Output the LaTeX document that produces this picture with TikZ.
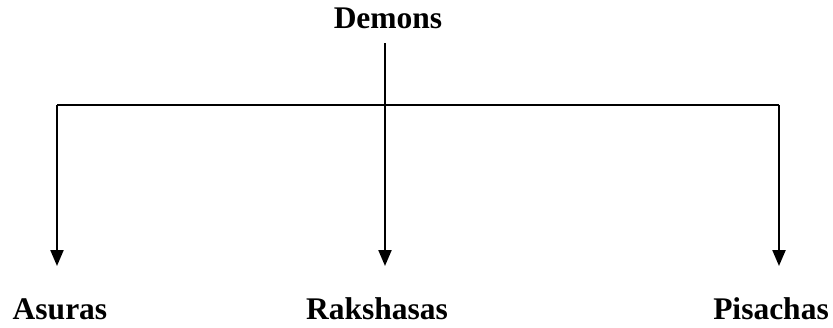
\documentclass[tikz,border=0pt]{standalone}
\usepackage{fontspec}
\setmainfont{Liberation Serif}
\usetikzlibrary{arrows.meta}
\begin{document}
\begin{tikzpicture}[x=1pt,y=-1pt,
  lbl/.style={font=\fontsize{31.5}{36}\selectfont\bfseries, anchor=base, inner sep=0pt},
  ln/.style={line width=2.2pt},
  arr/.style={line width=2.2pt, -{Triangle[length=16pt,width=13pt]}}]
\useasboundingbox (0,0) rectangle (833,327);
\node[lbl] (demons) at (388,28) {Demons};
\node[lbl] (asuras) at (60,319) {Asuras};
\node[lbl] (rak) at (377,319) {Rakshasas};
\node[lbl] (pis) at (771,319) {Pisachas};
\coordinate (top) at (385,43);
\coordinate (mid) at (385,105);
\coordinate (left) at (57,105);
\coordinate (right) at (779,105);
\coordinate (lt) at (57,266);
\coordinate (ct) at (385,266);
\coordinate (rt) at (779,266);
\draw[ln] (top) -- (mid);
\draw[ln] (left) -- (right);
\draw[arr] (left) -- (lt);
\draw[arr] (mid) -- (ct);
\draw[arr] (right) -- (rt);
\end{tikzpicture}
\end{document}
